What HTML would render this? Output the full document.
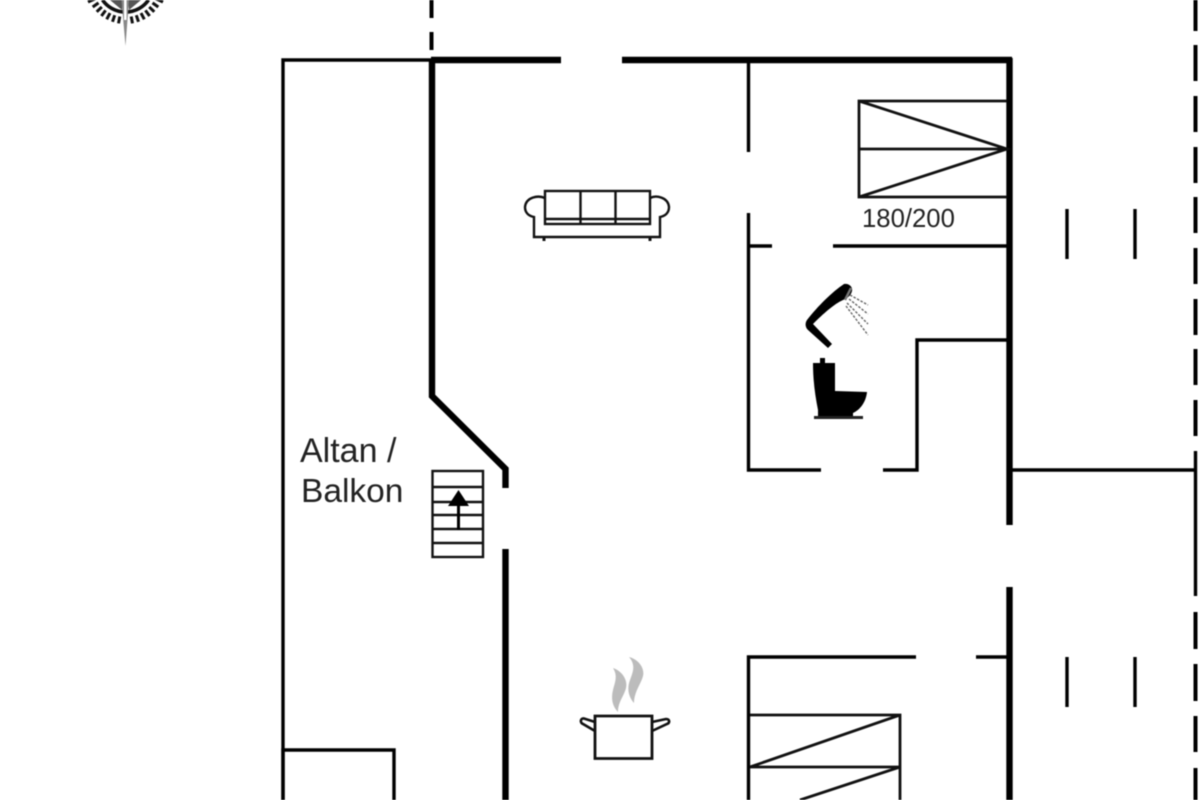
<!DOCTYPE html>
<html><head><meta charset="utf-8"><style>
html,body{margin:0;padding:0;background:#fff}
svg{display:block;filter:blur(.6px)}
text{font-family:"Liberation Sans",sans-serif;fill:#222}
</style></head><body>
<svg width="1200" height="800" viewBox="0 0 1200 800" xmlns="http://www.w3.org/2000/svg">
<rect width="1200" height="800" fill="#fff"/>
<!-- compass -->
<g fill="none" stroke="#111">
<path d="M102.500 0A28 28 0 0 0 148.500 0" stroke-width="3.600"/>
<g stroke-width="3">
<path d="M119.800 16.500L118.500 23.400M114.700 15.200L112.500 21.800M110 13.100L106.700 19.300M105.600 10.400L101.400 16M101.800 6.900L96.700 11.800M98.500 2.900L92.700 7M95.800 -1.500L88 2"/>
<path d="M131.200 16.500L132.500 23.400M136.300 15.200L138.500 21.800M141 13.100L144.300 19.300M145.400 10.400L149.600 16M149.200 6.900L154.300 11.800M152.500 2.900L158.300 7M155.200 -1.500L163 2"/>
</g>
</g>
<path d="M110 0L122 10L123 0ZM141 0L129 10L128 0Z" fill="#555"/>
<path d="M121.500 0L125.500 46L129 0Z" fill="#888"/>
<rect x="124" y="0" width="2.600" height="20" fill="#fff"/>
<!-- thin walls -->
<g fill="none" stroke="#000" stroke-width="3.400">
<path d="M283 800V60H431"/>
<path d="M283 800V750H394V800"/>
<path d="M748.500 62V152M748.500 213V470H821M748.500 246H772M833 246H1008"/>
<path d="M883 470H917V340H1008"/>
<path d="M1011 470H1196"/>
<path d="M748.500 800V657H916M976 657H1008"/>
<path d="M1067 209V259M1135 209V259M1067 657V707M1135 657V707"/>
<path d="M1195.500 451V596"/>
</g>
<!-- thick walls -->
<g fill="none" stroke="#000" stroke-width="6.400">
<path d="M431 60H561M622 60H1012"/>
<path d="M432 60V396L505.500 469V488"/>
<path d="M505.500 549V800"/>
<path d="M1009.500 58V525M1009.500 587V800"/>
</g>
<!-- dashed -->
<g stroke="#000" stroke-width="4">
<path d="M431.500 0V18M431.500 32V50"/>
<path d="M1195.500 0V31M1195.500 45V81M1195.500 96V132M1195.500 147V183M1195.500 197V233M1195.500 248V284M1195.500 299V335M1195.500 349V385M1195.500 400V436M1195.500 612V649M1195.500 664V701M1195.500 716V752M1195.500 768V800"/>
</g>
<!-- bed top -->
<g fill="none" stroke="#111" stroke-width="2.800">
<path d="M1007 101H859V197H1007M859 149H1007M859 101L1007 149L859 197"/>
</g>
<text x="862" y="227" font-size="25.700">180/200</text>
<!-- bed bottom -->
<g fill="none" stroke="#111" stroke-width="2.800">
<path d="M750 715H900V800M750 767H900M750 767L900 715M800 800L900 767"/>
</g>
<!-- sofa -->
<g fill="none" stroke="#111" stroke-width="2.400">
<rect x="545" y="191" width="105" height="33"/>
<path d="M580.500 191V224M615.500 191V224M545 219H650"/>
<path d="M545 198C538 195 526 197 525 207C525 213 529 216 534 217V237H660V217C665 216 669 213 669 207C668 197 656 195 650 198"/>
<path d="M544 237V241M650 237V241" stroke-width="3"/>
</g>
<!-- shower -->
<path d="M844 284C849 283 853 287 852 291C851 295 848 298 843 300C834 304 823 314 813 324L832 344L828 348L808 330C805 327 805 323 807 320C818 306 832 292 844 284Z" fill="#000"/>
<path d="M851 288L845 300" stroke="#777" stroke-width="2.500"/>
<g stroke="#666" stroke-width="1.400" stroke-dasharray="2.500 1.500" fill="none">
<path d="M850 295L868 305M849 299L868 314M847 303L868 324M846 306L868 335"/>
</g>
<!-- toilet -->
<path d="M820 358H825V363H835V391L867 392C866 402 860 410 853 413V417H818V410C815 395 813 380 813 363H820Z" fill="#000"/>
<rect x="814" y="416" width="49" height="3" fill="#222"/>
<!-- labels -->
<text x="300" y="462" font-size="34">Altan /</text>
<text x="301" y="502" font-size="33.500">Balkon</text>
<!-- stairs -->
<g fill="none" stroke="#111" stroke-width="2.400">
<rect x="432.500" y="471" width="50.500" height="86"/>
<path d="M433 487H482M433 502H482M433 515H482M433 529H482M433 543H482"/>
</g>
<path d="M458.500 490L469 506H460V530H457V506H448Z" fill="#000"/>
<!-- pot -->
<g fill="none" stroke="#111" stroke-width="2.800">
<path d="M595 716V758.500H652V716Z"/>
<path d="M595 722L584 718.500C580 718 580 723 583 724L595 731M652 722L666 719C670 719 670 723 667 724L652 731" stroke-width="2.600"/>
</g>
<g fill="#bcbcbc">
<path d="M613 668C622 671 628 680 626 688C624 696 618 702 618 712C612 706 611 698 613 690C615 682 618 676 613 668Z"/>
<path d="M629 657C638 659 645 668 643 676C641 684 634 692 634 703C628 696 627 688 630 680C633 672 636 665 629 657Z"/>
</g>
</svg>
</body></html>
